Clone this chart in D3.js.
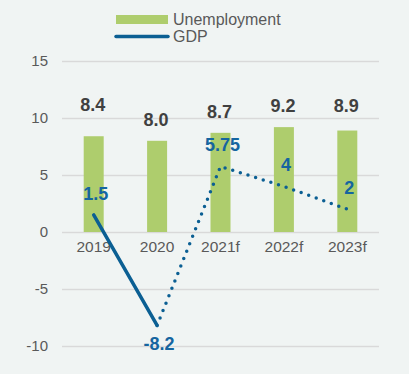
<!DOCTYPE html>
<html>
<head>
<meta charset="utf-8">
<script src="https://cdn.jsdelivr.net/npm/d3@7"></script>
<style>
  body { margin: 0; background: #f0f4f3; }
  svg { display: block; font-family: "Liberation Sans", Arial, sans-serif; }
</style>
</head>
<body>
<div id="chart"></div>
<script>
'use strict';

var years = ["2019", "2020", "2021f", "2022f", "2023f"];
var unemployment = [8.4, 8.0, 8.7, 9.2, 8.9];
var gdp = [1.5, -8.2, 5.75, 4, 2];
var gdpLabels = ["1.5", "-8.2", "5.75", "4", "2"];
var yTicks = [-10, -5, 0, 5, 10, 15];

var width = 409, height = 374;
var green = "#aecd6d", blue = "#0b5f93", grey = "#595959";

var svg = d3.select("#chart").append("svg")
  .attr("width", width)
  .attr("height", height);

var x = d3.scaleBand().domain(years).range([62, 379]);
var y = d3.scaleLinear().domain([-10, 15]).range([346, 61]);

// gridlines + y labels (plain hyphen, like the original)
var yAxis = d3.axisLeft(y).tickValues(yTicks).tickFormat(function(d) { return String(d); })
  .tickSize(-(379 - 62)).tickPadding(14);
var ga = svg.append("g").attr("transform", "translate(62,0)").call(yAxis);
ga.select(".domain").remove();
ga.selectAll(".tick line").attr("stroke", "#d9d9d9").attr("stroke-width", 1.5);
ga.selectAll(".tick text").attr("fill", grey).style("font-size", "15px")
  .attr("font-family", "Liberation Sans, Arial, sans-serif");

// bars
svg.selectAll("rect.bar").data(unemployment).enter().append("rect")
  .attr("class", "bar")
  .attr("x", function(d, i) { return x(years[i]) + x.bandwidth() / 2 - 10; })
  .attr("width", 20)
  .attr("y", function(d) { return y(d); })
  .attr("height", function(d) { return y(0) - y(d); })
  .attr("fill", green);

// x labels
var xAxis = d3.axisBottom(x).tickSize(0).tickPadding(9);
var gx = svg.append("g").attr("transform", "translate(0," + y(0) + ")").call(xAxis);
gx.select(".domain").remove();
gx.selectAll(".tick text").attr("fill", grey).style("font-size", "15.5px")
  .attr("font-family", "Liberation Sans, Arial, sans-serif");

// gdp lines: solid actuals, dotted forecast
var line = d3.line()
  .x(function(d) { return x(d.year) + x.bandwidth() / 2; })
  .y(function(d) { return y(d.value); });
var pts = gdp.map(function(v, i) { return { year: years[i], value: v }; });

svg.append("path").datum(pts.slice(0, 2))
  .attr("d", line).attr("fill", "none")
  .attr("stroke", blue).attr("stroke-width", 3.5).attr("stroke-linecap", "round");
svg.append("path").datum(pts.slice(1))
  .attr("d", line).attr("fill", "none")
  .attr("stroke", blue).attr("stroke-width", 3.5)
  .attr("stroke-linecap", "round").attr("stroke-dasharray", "0 8");

// unemployment value labels
var unempNudge = [-10, 0, 0, 0, -4];
svg.selectAll("text.ulab").data(unemployment).enter().append("text")
  .attr("class", "ulab")
  .attr("x", function(d, i) { return x(years[i]) + x.bandwidth() / 2 - 1; })
  .attr("y", function(d, i) { return y(d) - 15 + unempNudge[i]; })
  .attr("text-anchor", "middle")
  .attr("fill", "#404040").style("font-size", "18px").style("font-weight", "bold")
  .text(function(d) { return d.toFixed(1); });

// gdp value labels
svg.selectAll("text.glab").data(gdp).enter().append("text")
  .attr("class", "glab")
  .attr("x", function(d, i) { return x(years[i]) + x.bandwidth() / 2 + 2; })
  .attr("y", function(d, i) { return d < 0 ? y(d) + 25 : y(d) - 15; })
  .attr("text-anchor", "middle")
  .attr("fill", "#1565a0").style("font-size", "18px").style("font-weight", "bold")
  .text(function(d, i) { return gdpLabels[i]; });

// legend
var lg = svg.append("g");
lg.append("rect").attr("x", 116).attr("y", 15).attr("width", 52).attr("height", 9).attr("fill", green);
lg.append("text").attr("x", 173).attr("y", 25).attr("fill", grey).style("font-size", "16px").text("Unemployment");
lg.append("line").attr("x1", 116).attr("x2", 168).attr("y1", 36.5).attr("y2", 36.5)
  .attr("stroke", blue).attr("stroke-width", 3.5).attr("stroke-linecap", "round");
lg.append("text").attr("x", 173).attr("y", 42).attr("fill", grey).style("font-size", "16px").text("GDP");
</script>
</body>
</html>
